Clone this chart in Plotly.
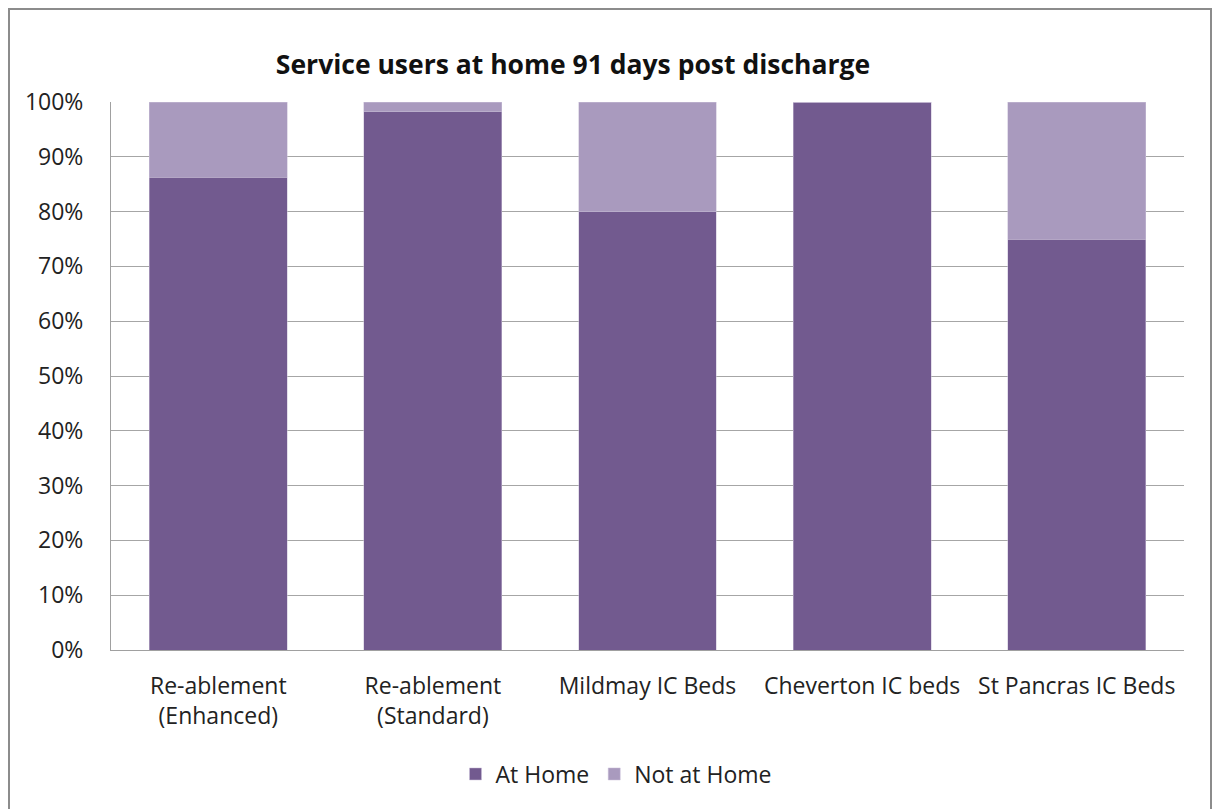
import plotly.graph_objects as go

categories = ["Re-ablement<br>(Enhanced)", "Re-ablement<br>(Standard)", "Mildmay IC Beds",
              "Cheverton IC beds", "St Pancras IC Beds"]
at_home = [86.3, 98.2, 80.0, 100.0, 75.0]
not_at_home = [13.7, 1.8, 20.0, 0.0, 25.0]
y_ticks = [0, 10, 20, 30, 40, 50, 60, 70, 80, 90, 100]
y_tick_labels = [f"{v}%" for v in y_ticks]

FONT = "'Open Sans', 'Noto Sans', sans-serif"
DARK = "#725a8f"
LIGHT = "#a99abe"

fig = go.Figure()
fig.add_trace(go.Bar(x=categories, y=at_home, name="At Home",
                     marker=dict(color=DARK, line=dict(color="#c9bfd8", width=0.5))))
fig.add_trace(go.Bar(x=categories, y=not_at_home, name="Not at Home",
                     marker=dict(color=LIGHT, line=dict(color="#c9bfd8", width=0.5))))

L, R, T, B = 111, 30, 102, 159
W, H = 1214, 809
pw, ph = W - L - R, H - T - B

def px_x(px):
    return (px - L) / pw

def px_y(py):
    return (H - B - py) / ph

fig.update_layout(
    barmode="stack",
    bargap=0.357,
    width=W, height=H,
    margin=dict(l=L, r=R, t=T, b=B),
    paper_bgcolor="white",
    plot_bgcolor="white",
    font=dict(family=FONT, size=23, color="#222222"),
    title=dict(text="<b>Service users at home 91 days post discharge</b>",
               x=px_x(573), xref="paper", xanchor="center",
               y=1 - 65 / H, yanchor="middle",
               font=dict(family=FONT, size=26.5, color="#111111")),
    legend=dict(orientation="h", x=px_x(616), xanchor="center",
                y=px_y(774), yanchor="middle",
                font=dict(size=23), itemwidth=30, traceorder="normal"),
    xaxis=dict(showgrid=False, showline=True, linecolor="#a0a0a0", linewidth=1,
               ticks="outside", ticklen=15, tickcolor="rgba(0,0,0,0)",
               tickfont=dict(size=23)),
    yaxis=dict(range=[0, 100], tickvals=y_ticks, ticktext=y_tick_labels,
               showgrid=True, gridcolor="#a6a6a6", gridwidth=1,
               showline=True, linecolor="#a0a0a0", linewidth=1,
               ticks="outside", ticklen=22, tickcolor="rgba(0,0,0,0)",
               tickfont=dict(size=23), zeroline=False),
    shapes=[dict(type="rect", xref="paper", yref="paper",
                 x0=px_x(9), x1=px_x(1211), y0=px_y(9), y1=px_y(830),
                 line=dict(color="#8c8c8c", width=2), fillcolor="rgba(0,0,0,0)",
                 layer="below")],
)

fig.write_html("out.html")
